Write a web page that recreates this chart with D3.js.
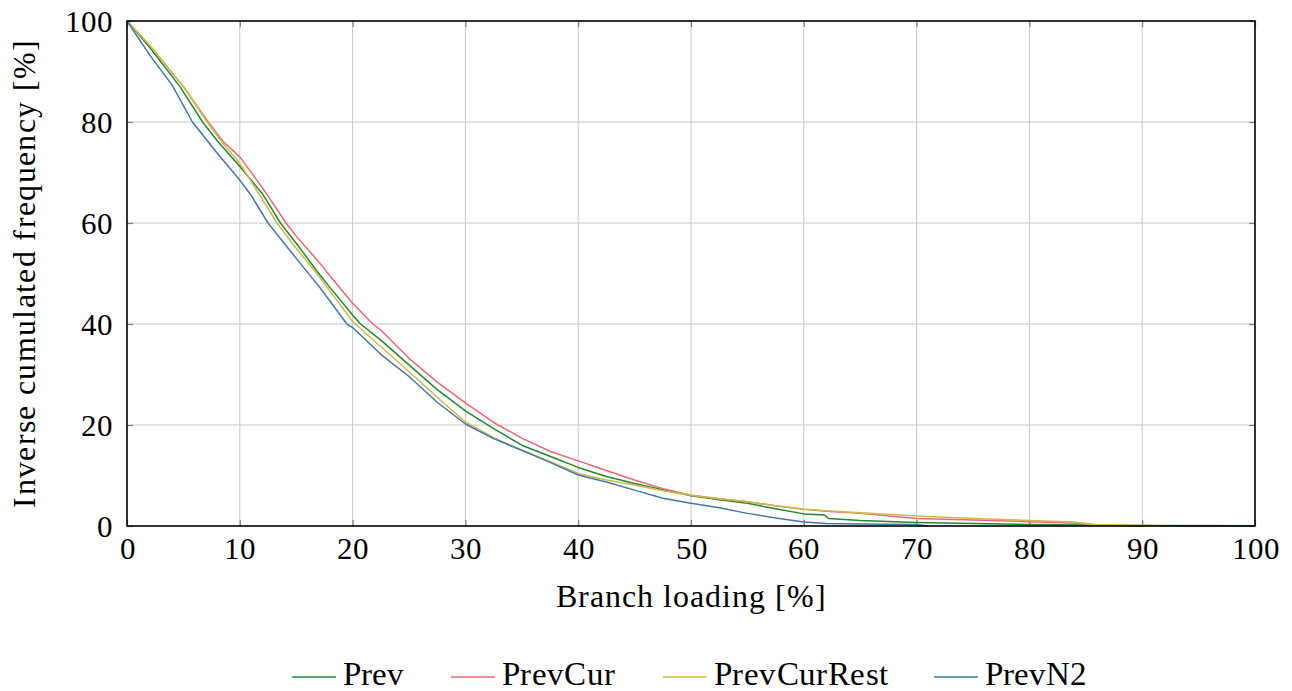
<!DOCTYPE html>
<html><head><meta charset="utf-8"><script src="https://cdn.jsdelivr.net/npm/d3@7"></script>
<style>
@font-face { font-family: "ChartSerif"; src: local("Liberation Serif"), local("LiberationSerif-Regular"), local("Times New Roman"); }
</style>
</head>
<body style="margin:0;background:#fff">
<svg id="fig" width="1292" height="691"></svg>
<script>
const seriesNames = ["Prev", "PrevCur", "PrevCurRest", "PrevN2"];
const seriesColors = ["#228833", "#EE6677", "#CCBB44", "#4477AA"];
const xTicks = [0,10,20,30,40,50,60,70,80,90,100];
const yTicks = [0,20,40,60,80,100];

const prevX = [0,2,4.7,6.7,8,10,12,13.6,15,17,18,20,20.7,22.5,25,27.5,30,32.5,35,37.5,40,42.5,45,47.5,50,52.5,55,57.5,60,61.8,62.2,65,70,75,80,85,90,100];
const prevY = [100,94.8,87,80,76.3,71.2,65.8,60,56,50,47.2,41.8,40,36.8,31.9,27,22.8,19.3,16,13.8,11.6,9.8,8.4,7.2,6.0,5.2,4.5,3.4,2.4,2.2,1.5,1.1,0.7,0.5,0.3,0.2,0.1,0.05];

const prevCurX = [0,2,5,7.2,8.5,10,12,14.1,15,17,18,20,21.8,22.5,25,27.5,30,32.5,35,37.5,40,42.5,45,47.5,50,52.5,55,57.5,60,62,65,70,75,80,85,86,88,90];
const prevCurY = [100,95.2,87,80,76.2,73.1,67,60,57.4,52.3,49.5,44.1,40,38.8,33.2,28.5,24.4,20.5,17.4,14.8,12.9,11.0,9.1,7.4,6.1,5.4,4.8,4.0,3.3,2.9,2.5,1.5,1.2,0.85,0.5,0.2,0.1,0];

const prevCurRestX = [0,2,5,7.1,8.5,10,12,13.3,15,17,18,20,22.5,25,27.5,30,32.5,35,37.5,40,42.5,45,47.5,50,52.5,55,57.5,60,62,65,70,75,80,84,85.4,90,92];
const prevCurRestY = [100,95.2,87,80,75.8,71.8,64.7,60,55,49.5,46.5,40.5,35.5,30.6,25.5,20.6,17.5,15,12.8,10.4,9.1,8.1,7.0,6.1,5.4,4.8,4.0,3.3,3.0,2.6,2.0,1.5,1.1,0.8,0.3,0.15,0];

const prevN2X = [0,2,4,5.8,8,10,11,12.5,15,17,18,19.5,20,22.5,25,27.5,30,32.5,35,37.5,40,42.5,45,47.5,50,52.5,55,57.5,60,62,65,70,71];
const prevN2Y = [100,93.3,87.3,80,73.8,68.5,65.5,60,53,47.5,44.5,40,39.3,34,29.6,24.5,20.2,17.3,15,12.6,10.1,8.7,7.1,5.5,4.5,3.6,2.5,1.6,0.8,0.5,0.4,0.3,0];

const seriesX = [prevX, prevCurX, prevCurRestX, prevN2X];
const seriesY = [prevY, prevCurY, prevCurRestY, prevN2Y];

const FONT = '"ChartSerif", "Liberation Serif", "Times New Roman", serif';
const svg = d3.select("#fig");
const L = 127, R = 1255, T = 21, B = 526;
const x = d3.scaleLinear().domain([0,100]).range([L,R]);
const y = d3.scaleLinear().domain([0,100]).range([B,T]);

function styleText(sel, size) {
  return sel.attr("font-family", null)
    .style("font-family", FONT, "important")
    .style("font-size", size + "px", "important")
    .attr("fill", "#000");
}

// grid
const grid = svg.append("g");
grid.selectAll(".gx").data(xTicks.slice(1,-1)).join("line")
  .attr("x1", d=>x(d)).attr("x2", d=>x(d)).attr("y1", T).attr("y2", B)
  .attr("stroke", "#c8c8c8").attr("stroke-width", 1);
grid.selectAll(".gy").data(yTicks.slice(1,-1)).join("line")
  .attr("y1", d=>y(d)).attr("y2", d=>y(d)).attr("x1", L).attr("x2", R)
  .attr("stroke", "#c8c8c8").attr("stroke-width", 1);

const fs = 31;
const gxB = svg.append("g").attr("transform", `translate(0,${B})`)
  .call(d3.axisBottom(x).tickValues(xTicks).tickSize(-6).tickPadding(11).tickFormat(d3.format("d")));
const gxT = svg.append("g").attr("transform", `translate(0,${T})`)
  .call(d3.axisTop(x).tickValues(xTicks).tickSize(-6).tickFormat(""));
const gyL = svg.append("g").attr("transform", `translate(${L},0)`)
  .call(d3.axisLeft(y).tickValues(yTicks).tickSize(-6).tickPadding(14).tickFormat(d3.format("d")));
const gyR = svg.append("g").attr("transform", `translate(${R},0)`)
  .call(d3.axisRight(y).tickValues(yTicks).tickSize(-6).tickFormat(""));
[gxB,gxT,gyL,gyR].forEach(g=>{
  g.attr("font-family", null).attr("font-size", null);
  g.select(".domain").remove();
  g.selectAll(".tick line").attr("stroke","#808080").attr("stroke-width",1.2);
  styleText(g.selectAll(".tick text"), fs);
});
gxB.selectAll(".tick text").attr("dy","0.71em");
gyL.selectAll(".tick text").attr("dy","0.34em");

// lines
const line = d3.line().x(d=>x(d[0])).y(d=>y(d[1]));
seriesNames.forEach((n,i)=>{
  const pts = seriesX[i].map((v,j)=>[v, seriesY[i][j]]);
  svg.append("path").datum(pts).attr("d", line)
    .attr("fill","none").attr("stroke", seriesColors[i]).attr("stroke-width", 1.5)
    .attr("stroke-linejoin","round");
});

// frame
svg.append("rect").attr("x",L).attr("y",T).attr("width",R-L).attr("height",B-T)
  .attr("fill","none").attr("stroke","#000").attr("stroke-width",1.6);

// axis labels
styleText(svg.append("text").attr("x",(L+R)/2).attr("y",607).attr("text-anchor","middle"), 32)
  .attr("textLength",270).attr("lengthAdjust","spacing").text("Branch loading [%]");
styleText(svg.append("text").attr("transform",`translate(35,${(T+B)/2}) rotate(-90)`)
  .attr("text-anchor","middle"), 32)
  .attr("textLength",468).attr("lengthAdjust","spacing").text("Inverse cumulated frequency [%]");

// legend
const legX = [292, 451, 663, 934];
const legW = [61, 113, 174, 102];
const lg = svg.append("g");
seriesNames.forEach((n,i)=>{
  lg.append("line").attr("x1",legX[i]).attr("x2",legX[i]+44).attr("y1",677).attr("y2",677)
    .attr("stroke",seriesColors[i]).attr("stroke-width",1.6);
  styleText(lg.append("text").attr("x",legX[i]+51).attr("y",685), 33)
    .attr("textLength",legW[i]).attr("lengthAdjust","spacing").text(n);
});
</script>
</body>
</html>
